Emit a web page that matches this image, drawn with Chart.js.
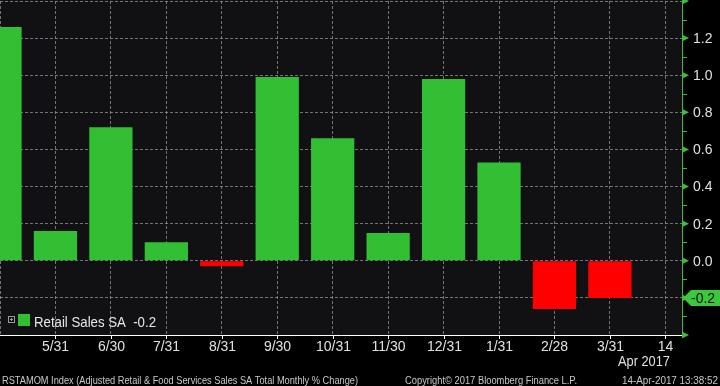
<!DOCTYPE html>
<html>
<head>
<meta charset="utf-8">
<script src="https://cdn.jsdelivr.net/npm/chart.js@4.4.1/dist/chart.umd.min.js"></script>
<style>
  html, body { margin: 0; padding: 0; background: #000; }
  #wrap { width: 720px; height: 386px; }
</style>
</head>
<body>
<div id="wrap"><canvas id="graphique" width="720" height="386"></canvas></div>
<script>
// Données du graphique (variation mensuelle en %)
var categories = ["4/30", "5/31", "6/30", "7/31", "8/31", "9/30", "10/31", "11/30", "12/31", "1/31", "2/28", "3/31", "14"];
var valeurs = [1.26, 0.16, 0.72, 0.10, -0.03, 0.99, 0.66, 0.15, 0.98, 0.53, -0.26, -0.20];
var yTicks = [-0.4, -0.2, 0.0, 0.2, 0.4, 0.6, 0.8, 1.0, 1.2, 1.4];
var yLabelsCaches = [-0.4, -0.2, 1.4];
var dernierValeur = -0.2;
var nomSerie = "Retail Sales SA";
var sousTitre = "Apr 2017";
var piedGauche = "RSTAMOM Index (Adjusted Retail & Food Services Sales SA Total Monthly % Change)";
var piedMilieu = "Copyright\u00a9 2017 Bloomberg Finance L.P.";
var piedDroite = "14-Apr-2017 13:38:52";

var VERT = "#33bf33";
var ROUGE = "#ff0000";
var AXE_VERT = "#3cbd3c";
var POLICE = "'Liberation Sans', Arial, sans-serif";

// texte compressé pour tenir dans une largeur donnée
function texteAjuste(ctx, txt, x, y, largeur) {
  var w = ctx.measureText(txt).width;
  ctx.save();
  ctx.translate(x, y);
  ctx.scale(largeur / w, 1);
  ctx.fillText(txt, 0, 0);
  ctx.restore();
}

function estCache(v) {
  for (var k = 0; k < yLabelsCaches.length; k++) {
    if (Math.abs(v - yLabelsCaches[k]) < 1e-6) return true;
  }
  return false;
}

var decor = {
  id: "decor",
  beforeDraw: function(chart) {
    var ctx = chart.ctx, a = chart.chartArea;
    ctx.save();
    ctx.fillStyle = "#000";
    ctx.fillRect(0, 0, chart.width, chart.height);
    ctx.fillStyle = "#111114";
    ctx.fillRect(a.left, a.top - 1, a.right - a.left, a.bottom - a.top + 1);
    ctx.restore();
  },
  afterDraw: function(chart) {
    var ctx = chart.ctx, a = chart.chartArea;
    var x = chart.scales.x, y = chart.scales.y;
    ctx.save();

    // petits traits blancs sous l'axe des x + étiquettes
    ctx.strokeStyle = "#ffffff";
    ctx.lineWidth = 1;
    ctx.font = "14px " + POLICE;
    ctx.fillStyle = "#e0e0e0";
    ctx.textAlign = "center";
    ctx.textBaseline = "middle";
    for (var i = 1; i < categories.length; i++) {
      var px = Math.round(x.getPixelForValue(i)) + 0.5;
      ctx.beginPath();
      ctx.moveTo(px, a.bottom);
      ctx.lineTo(px, a.bottom + 4);
      ctx.stroke();
      ctx.fillText(categories[i], px, 347);
    }

    // triangles, graduations mineures et étiquettes de l'axe de droite
    ctx.fillStyle = AXE_VERT;
    ctx.strokeStyle = AXE_VERT;
    ctx.textAlign = "left";
    for (var j = 0; j < yTicks.length; j++) {
      var py = y.getPixelForValue(yTicks[j]);
      ctx.fillStyle = AXE_VERT;
      ctx.beginPath();
      ctx.moveTo(a.right, py - 3.5);
      ctx.lineTo(a.right + 7, py);
      ctx.lineTo(a.right, py + 3.5);
      ctx.closePath();
      ctx.fill();
      if (j < yTicks.length - 1) {
        var pm = Math.round(y.getPixelForValue((yTicks[j] + yTicks[j + 1]) / 2)) + 0.5;
        ctx.beginPath();
        ctx.moveTo(a.right, pm);
        ctx.lineTo(a.right + 5, pm);
        ctx.stroke();
      }
      if (!estCache(yTicks[j])) {
        ctx.fillStyle = "#e0e0e0";
        ctx.fillText(yTicks[j].toFixed(1), a.right + 11, py + 1);
      }
    }

    // étiquette de la dernière valeur
    var ty = y.getPixelForValue(dernierValeur);
    ctx.fillStyle = "#3cc83c";
    ctx.beginPath();
    ctx.moveTo(a.right + 1, ty);
    ctx.lineTo(a.right + 9, ty - 8);
    ctx.lineTo(720, ty - 8);
    ctx.lineTo(720, ty + 8);
    ctx.lineTo(a.right + 9, ty + 8);
    ctx.closePath();
    ctx.fill();
    ctx.fillStyle = "#0b0b0b";
    ctx.fillText(dernierValeur.toFixed(1), a.right + 9, ty + 1);

    // légende
    ctx.strokeStyle = "#9a9a9a";
    ctx.lineWidth = 1;
    ctx.strokeRect(8.5, 316.5, 6, 6);
    ctx.beginPath();
    ctx.moveTo(10, 319.5); ctx.lineTo(13, 319.5);
    ctx.moveTo(11.5, 318); ctx.lineTo(11.5, 321);
    ctx.stroke();
    ctx.fillStyle = VERT;
    ctx.fillRect(18, 314, 12, 12);
    ctx.fillStyle = "#e8e8e8";
    ctx.font = "15px " + POLICE;
    ctx.textBaseline = "alphabetic";
    texteAjuste(ctx, nomSerie + "  " + dernierValeur.toFixed(1), 34, 327, 122);

    // sous-titre de l'axe des x
    ctx.font = "14px " + POLICE;
    ctx.fillStyle = "#e0e0e0";
    texteAjuste(ctx, sousTitre, 618, 366, 52);

    // pied de page
    ctx.font = "10px " + POLICE;
    ctx.fillStyle = "#c8c8c8";
    texteAjuste(ctx, piedGauche, 2, 384, 356);
    texteAjuste(ctx, piedMilieu, 405, 384, 172);
    texteAjuste(ctx, piedDroite, 622, 384, 96);
    ctx.restore();
  }
};

var ctx = document.getElementById("graphique").getContext("2d");
var chart = new Chart(ctx, {
  type: "bar",
  data: {
    datasets: [{
      label: nomSerie,
      data: valeurs.map(function(v, i) { return { x: i, y: v }; }),
      backgroundColor: valeurs.map(function(v) { return v < 0 ? ROUGE : VERT; }),
      borderWidth: 0,
      barPercentage: 0.78,
      categoryPercentage: 1
    }]
  },
  options: {
    responsive: false,
    animation: false,
    layout: { padding: { top: 1, left: 0, right: 0, bottom: 0 } },
    plugins: { legend: { display: false }, tooltip: { enabled: false } },
    scales: {
      x: {
        type: "linear",
        min: 0,
        max: 12.3,
        offset: false,
        afterBuildTicks: function(scale) {
          scale.ticks = categories.map(function(c, i) { return { value: i }; });
        },
        afterFit: function(scale) { scale.height = 51; },
        grid: { offset: false, color: "rgba(150,150,150,0.75)", drawTicks: false },
        border: { display: true, color: "#ffffff", width: 1, dash: [3, 2] },
        ticks: { display: false }
      },
      y: {
        position: "right",
        min: -0.4,
        max: 1.4,
        afterBuildTicks: function(scale) {
          scale.ticks = yTicks.map(function(v) { return { value: v }; });
        },
        afterFit: function(scale) { scale.width = 38; },
        grid: { color: "rgba(150,150,150,0.75)", drawTicks: false },
        border: { display: true, color: AXE_VERT, width: 1, dash: [3, 2] },
        ticks: { display: false }
      }
    }
  },
  plugins: [decor]
});
</script>
</body>
</html>
